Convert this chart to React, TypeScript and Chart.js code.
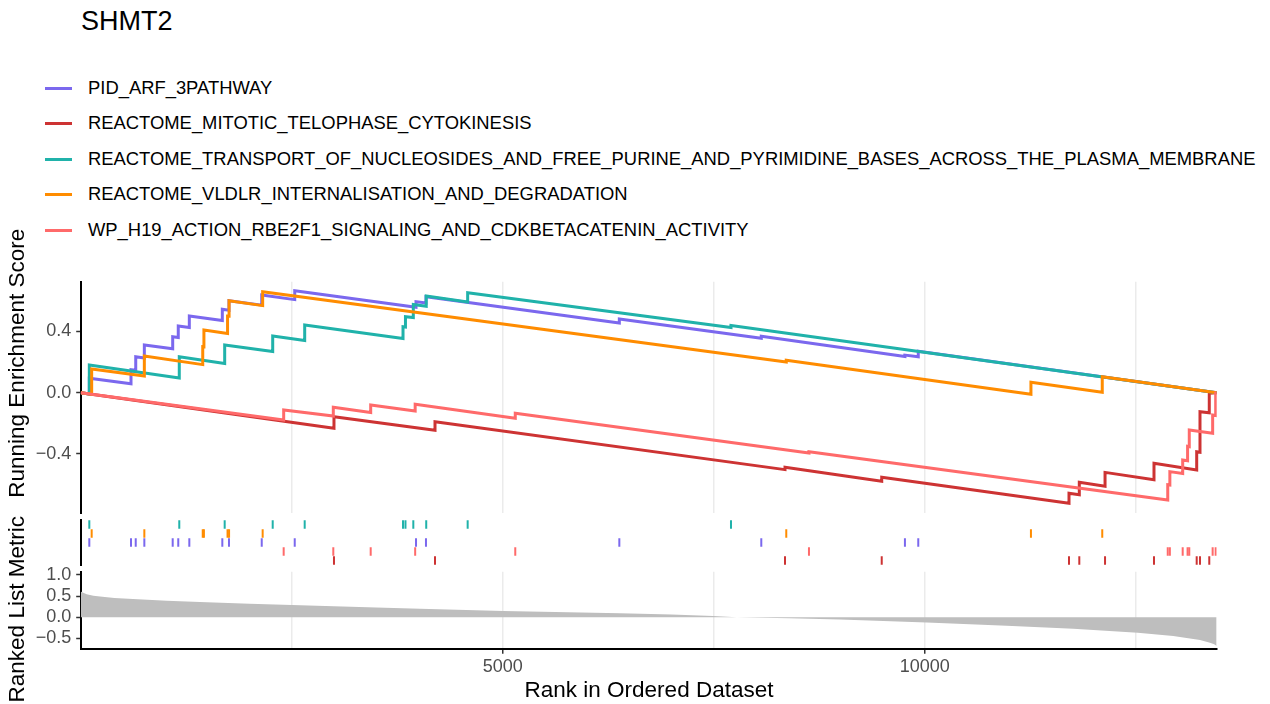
import React, { useEffect, useRef } from "react";
import { Chart, registerables } from "chart.js";

Chart.register(...registerables);

const FONT = "'Liberation Sans', Arimo, Arial, Helvetica, sans-serif";

// ---------------- data ----------------
const N_GENES = 13460;
const plotTitle = "SHMT2";

const setNames = [
  "PID_ARF_3PATHWAY",
  "REACTOME_MITOTIC_TELOPHASE_CYTOKINESIS",
  "REACTOME_TRANSPORT_OF_NUCLEOSIDES_AND_FREE_PURINE_AND_PYRIMIDINE_BASES_ACROSS_THE_PLASMA_MEMBRANE",
  "REACTOME_VLDLR_INTERNALISATION_AND_DEGRADATION",
  "WP_H19_ACTION_RBE2F1_SIGNALING_AND_CDKBETACATENIN_ACTIVITY",
];
const setColors = ["#7B68EE", "#CD3333", "#20B2AA", "#FF8C00", "#FF6A6A"];

// hit ranks, running ES just before and just after each hit
const arfHits = [102, 596, 652, 754, 1090, 1156, 1287, 1678, 1757, 2145, 2536, 3973, 4091, 6382, 8064, 9766, 9924];
const arfBefore = [-0.008, 0.058, 0.146, 0.226, 0.286, 0.36, 0.425, 0.471, 0.538, 0.571, 0.607, 0.557, 0.585, 0.455, 0.355, 0.236, 0.234];
const arfAfter = [0.094, 0.15, 0.235, 0.311, 0.365, 0.435, 0.5, 0.544, 0.6, 0.637, 0.665, 0.594, 0.626, 0.481, 0.368, 0.245, 0.27];

const telHits = [3001, 4198, 8345, 9491, 11710, 11832, 12137, 12717, 13223, 13262, 13372];
const telBefore = [-0.232, -0.245, -0.502, -0.578, -0.722, -0.666, -0.61, -0.568, -0.505, -0.389, -0.131];
const telAfter = [-0.157, -0.189, -0.487, -0.552, -0.656, -0.585, -0.52, -0.461, -0.385, -0.124, -0.004];

const nucHits = [102, 1168, 1706, 2275, 2654, 3819, 3848, 3941, 4094, 4585, 7705];
const nucBefore = [-0.008, 0.096, 0.19, 0.268, 0.34, 0.354, 0.428, 0.49, 0.564, 0.592, 0.425];
const nucAfter = [0.18, 0.235, 0.311, 0.37, 0.441, 0.43, 0.496, 0.575, 0.631, 0.652, 0.438];

const vldHits = [130, 754, 1446, 1460, 1740, 1758, 2156, 8360, 11259, 12104];
const vldBefore = [-0.01, 0.109, 0.183, 0.299, 0.386, 0.499, 0.568, 0.2, -0.01, 0.003];
const vldAfter = [0.155, 0.239, 0.3, 0.409, 0.5, 0.6, 0.659, 0.212, 0.068, 0.104];

const h19Hits = [2405, 2993, 3436, 3963, 5149, 8629, 12880, 12905, 13057, 13115, 13135, 13412, 13448];
const h19Before = [-0.178, -0.152, -0.129, -0.12, -0.167, -0.393, -0.7, -0.602, -0.527, -0.444, -0.352, -0.265, -0.149];
const h19After = [-0.113, -0.095, -0.08, -0.076, -0.134, -0.385, -0.6, -0.515, -0.439, -0.35, -0.243, -0.146, -0.002];

// ranked list metric (rank, value)
const metricRanks = [0, 30, 71, 150, 229, 400, 620, 1019, 1413, 2000, 2503, 3000, 3500, 4020, 5007, 6390, 7000, 7492, 7772, 8400, 8996, 10024, 10972, 11761, 12524, 12945, 13262, 13380, 13430, 13460];
const metricValues = [0.61, 0.58, 0.545, 0.51, 0.49, 0.455, 0.43, 0.39, 0.36, 0.32, 0.29, 0.26, 0.23, 0.2, 0.15, 0.095, 0.065, 0.03, 0.0, -0.025, -0.05, -0.125, -0.2, -0.27, -0.365, -0.44, -0.54, -0.6, -0.64, -0.68];

// axes
const xGridTicks = [0, 2500, 5000, 7500, 10000, 12500];
const xLabelTicks = [5000, 10000];
const esTicks = [-0.4, 0, 0.4];
const metricTicks = [-0.5, 0, 0.5, 1.0];
const rugRowOrder = [2, 3, 0, 4, 1]; // top to bottom

const yTitleES = "Running Enrichment Score";
const yTitleMetric = "Ranked List Metric";
const xTitle = "Rank in Ordered Dataset";

const geneSets = [
  { hits: arfHits, before: arfBefore, after: arfAfter },
  { hits: telHits, before: telBefore, after: telAfter },
  { hits: nucHits, before: nucBefore, after: nucAfter },
  { hits: vldHits, before: vldBefore, after: vldAfter },
  { hits: h19Hits, before: h19Before, after: h19After },
].map((s, i) => ({ ...s, name: setNames[i], color: setColors[i] }));

// ---------------- layout ----------------
const W = 1270;
const LEFT = 80.7;
const RIGHT_PAD = W - 1216.7;

const ES_TOP = 262, ES_H = 268; // chart area 281.7 .. 513
const RUG_TOP = 500, RUG_H = 90; // chart area 520 .. 565
const MET_TOP = 540, MET_H = 164; // chart area 571.7 .. 649.3

const fmt = (v: number) => (v < 0 ? "\u2212" : "") + Math.abs(v).toFixed(1);

function esPoints(hits: number[], before: number[], after: number[]) {
  const pts = [{ x: 0, y: 0 }];
  hits.forEach((h, i) => {
    pts.push({ x: h, y: before[i] });
    pts.push({ x: h, y: after[i] });
  });
  pts.push({ x: N_GENES, y: 0 });
  return pts;
}

const base: any = {
  animation: false,
  responsive: false,
  devicePixelRatio: 1,
  events: [],
  plugins: { legend: { display: false }, tooltip: { enabled: false }, title: { display: false } },
};

const tickFont = { size: 18, family: FONT };

export default function App() {
  const esRef = useRef<HTMLCanvasElement>(null);
  const rugRef = useRef<HTMLCanvasElement>(null);
  const metRef = useRef<HTMLCanvasElement>(null);

  useEffect(() => {
    const charts: Chart[] = [];

    charts.push(
      new Chart(esRef.current as HTMLCanvasElement, {
        type: "line",
        data: {
          datasets: geneSets.map((s, i) => ({
            label: s.name,
            data: esPoints(s.hits, s.before, s.after),
            borderColor: s.color,
            backgroundColor: s.color,
            borderWidth: 3,
            pointRadius: 0,
            tension: 0,
            fill: false,
            order: geneSets.length - i,
          })),
        },
        options: {
          ...base,
          layout: { padding: { top: 281.7 - ES_TOP, bottom: ES_TOP + ES_H - 513, left: 0, right: RIGHT_PAD } },
          scales: {
            x: {
              type: "linear",
              min: 0,
              max: N_GENES,
              afterBuildTicks: (s: any) => {
                s.ticks = xGridTicks.map((v) => ({ value: v }));
              },
              ticks: { display: false },
              grid: { color: "#EBEBEB", lineWidth: 1.5, drawTicks: false },
              border: { display: false },
              afterFit: (s: any) => {
                s.height = 0;
              },
            },
            y: {
              type: "linear",
              min: -0.785,
              max: 0.724,
              afterBuildTicks: (s: any) => {
                s.ticks = esTicks.map((v) => ({ value: v }));
              },
              ticks: { font: tickFont, color: "#4D4D4D", padding: 5, callback: (v: any) => fmt(Number(v)) },
              grid: { drawOnChartArea: false, drawTicks: true, tickLength: 4.5, tickColor: "#333333", tickWidth: 1.5 },
              border: { display: true, color: "#000000", width: 2 },
              afterFit: (s: any) => {
                s.width = LEFT;
              },
            },
          },
        } as any,
      })
    );

    charts.push(
      new Chart(rugRef.current as HTMLCanvasElement, {
        type: "scatter",
        data: {
          datasets: geneSets.map((s, i) => {
            const row = rugRowOrder.indexOf(i);
            return {
              label: s.name,
              data: s.hits.map((h) => ({ x: h, y: 4.5 - row })),
              pointStyle: "line",
              rotation: 90,
              radius: 4.3,
              borderWidth: 2,
              borderColor: s.color,
              backgroundColor: s.color,
              showLine: false,
            };
          }),
        },
        options: {
          ...base,
          layout: { padding: { top: 520 - RUG_TOP, bottom: RUG_TOP + RUG_H - 565, left: 0, right: RIGHT_PAD } },
          scales: {
            x: { type: "linear", min: 0, max: N_GENES, display: false },
            y: {
              type: "linear",
              min: 0,
              max: 5,
              ticks: { display: false },
              grid: { display: false },
              border: { display: true, color: "#000000", width: 2 },
              afterFit: (s: any) => {
                s.width = LEFT;
              },
            },
          },
        } as any,
      })
    );

    charts.push(
      new Chart(metRef.current as HTMLCanvasElement, {
        type: "line",
        data: {
          datasets: [
            {
              label: "metric",
              data: metricRanks.map((r, i) => ({ x: r, y: metricValues[i] })),
              borderWidth: 0,
              borderColor: "rgba(0,0,0,0)",
              backgroundColor: "#BEBEBE",
              pointRadius: 0,
              tension: 0,
              fill: "origin",
            },
          ],
        },
        options: {
          ...base,
          layout: { padding: { top: 571.7 - MET_TOP, bottom: MET_TOP + MET_H - 649.3 - 30, left: 0, right: RIGHT_PAD } },
          scales: {
            x: {
              type: "linear",
              min: 0,
              max: N_GENES,
              afterBuildTicks: (s: any) => {
                s.ticks = xGridTicks.map((v) => ({ value: v }));
              },
              ticks: {
                font: tickFont,
                color: "#4D4D4D",
                padding: 2,
                maxRotation: 0,
                autoSkip: false,
                callback: (v: any) => (xLabelTicks.includes(Number(v)) ? String(v) : ""),
              },
              grid: {
                color: "#EBEBEB",
                lineWidth: 1.5,
                drawTicks: true,
                tickLength: 4.5,
                tickWidth: 1.5,
                tickColor: (ctx: any) => (ctx.tick && xLabelTicks.includes(ctx.tick.value) ? "#333333" : "rgba(0,0,0,0)"),
              },
              border: { display: true, color: "#000000", width: 2 },
              afterFit: (s: any) => {
                s.height = 30;
              },
            },
            y: {
              type: "linear",
              min: -0.757,
              max: 1.078,
              afterBuildTicks: (s: any) => {
                s.ticks = metricTicks.map((v) => ({ value: v }));
              },
              ticks: { font: tickFont, color: "#4D4D4D", padding: 5, callback: (v: any) => fmt(Number(v)) },
              grid: { drawOnChartArea: false, drawTicks: true, tickLength: 4.5, tickColor: "#333333", tickWidth: 1.5 },
              border: { display: true, color: "#000000", width: 2 },
              afterFit: (s: any) => {
                s.width = LEFT;
              },
            },
          },
        } as any,
      })
    );

    return () => charts.forEach((c) => c.destroy());
  }, []);

  const abs = (extra: React.CSSProperties): React.CSSProperties => ({ position: "absolute", ...extra });

  return (
    <div
      style={{
        position: "absolute",
        left: 0,
        top: 0,
        width: W,
        height: 704,
        background: "#FFFFFF",
        overflow: "hidden",
        fontFamily: FONT,
        color: "#000",
      }}
    >
      <div style={abs({ left: 81, top: 8, fontSize: 27, lineHeight: "27px", whiteSpace: "nowrap" })}>{plotTitle}</div>

      {geneSets.map((s, i) => {
        const cy = 88 + i * 35.5;
        return (
          <React.Fragment key={s.name}>
            <div style={abs({ left: 45, top: cy - 1.5, width: 27, height: 3, background: s.color })} />
            <div style={abs({ left: 88, top: cy - 9.2, fontSize: 18.4, lineHeight: "18.4px", whiteSpace: "nowrap" })}>{s.name}</div>
          </React.Fragment>
        );
      })}

      <canvas ref={esRef} width={W} height={ES_H} style={abs({ left: 0, top: ES_TOP, width: W, height: ES_H })} />
      <canvas ref={rugRef} width={W} height={RUG_H} style={abs({ left: 0, top: RUG_TOP, width: W, height: RUG_H })} />
      <canvas ref={metRef} width={W} height={MET_H} style={abs({ left: 0, top: MET_TOP, width: W, height: MET_H })} />

      <div
        style={abs({
          left: 17 - 200,
          top: 363 - 11.25,
          width: 400,
          height: 22.5,
          fontSize: 22.5,
          lineHeight: "22.5px",
          textAlign: "center",
          whiteSpace: "nowrap",
          transform: "rotate(-90deg)",
        })}
      >
        {yTitleES}
      </div>
      <div
        style={abs({
          left: 17 - 200,
          top: 609 - 11.25,
          width: 400,
          height: 22.5,
          fontSize: 22.5,
          lineHeight: "22.5px",
          textAlign: "center",
          whiteSpace: "nowrap",
          transform: "rotate(-90deg)",
        })}
      >
        {yTitleMetric}
      </div>
      <div
        style={abs({
          left: 649 - 300,
          top: 690 - 11.25,
          width: 600,
          height: 22.5,
          fontSize: 22.5,
          lineHeight: "22.5px",
          textAlign: "center",
          whiteSpace: "nowrap",
        })}
      >
        {xTitle}
      </div>
    </div>
  );
}
